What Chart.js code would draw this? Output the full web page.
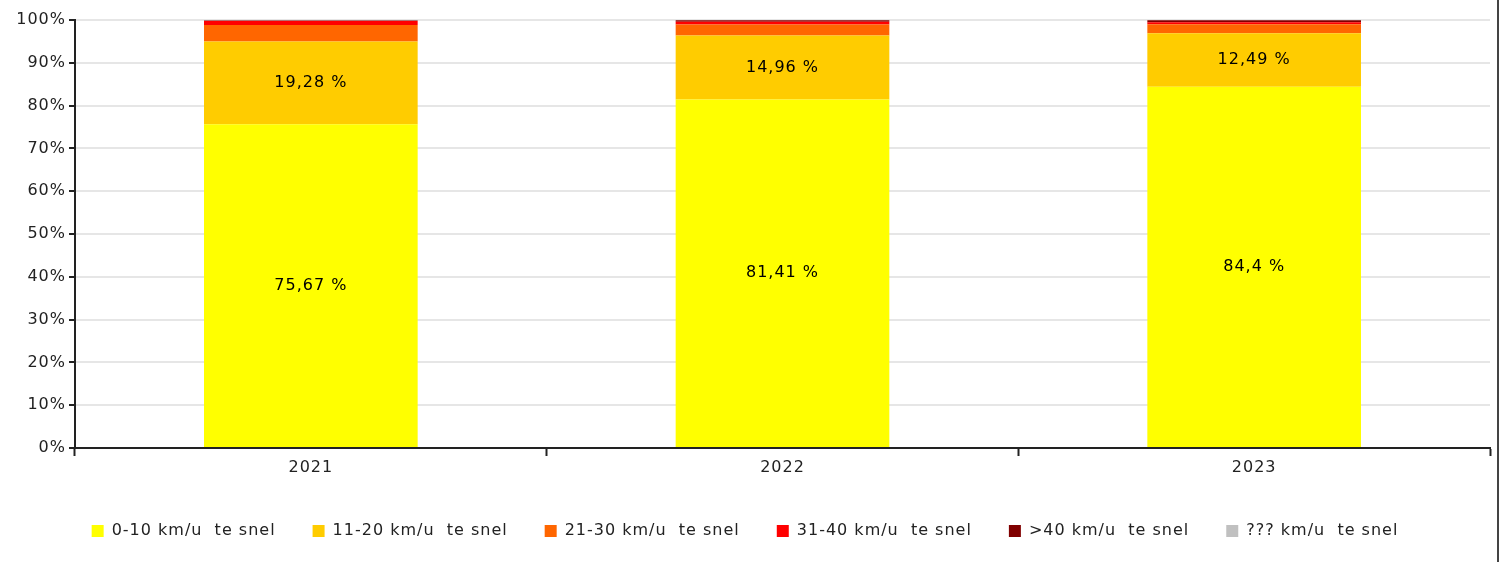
<!DOCTYPE html>
<html>
<head>
<meta charset="utf-8">
<script src="https://cdn.jsdelivr.net/npm/chart.js@4.4.0/dist/chart.umd.min.js"></script>
<style>
  html, body { margin: 0; padding: 0; background: #fff; }
  #wrap { position: relative; width: 1497px; height: 562px; border-right: 2px solid #444; }
</style>
</head>
<body>
<div id="wrap"><canvas id="Chart1"></canvas></div>
<script>
var years = ['2021', '2022', '2023'];
var speedLabels = ['0-10 km/u  te snel', '11-20 km/u  te snel', '21-30 km/u  te snel',
  '31-40 km/u  te snel', '>40 km/u  te snel', '??? km/u  te snel'];
var speedColors = ['#FFFF00', '#FFCC00', '#FF6600', '#FF0000', '#800000', '#C0C0C0'];

var kmh0to10 = [75.67, 81.41, 84.4];
var kmh11to20 = [19.28, 14.96, 12.49];
var kmh21to30 = [3.9, 2.6, 2.1];
var kmh31to40 = [0.9, 0.6, 0.5];
var kmhOver40 = [0.15, 0.4, 0.45];
var kmhUnknown = [0, 0, 0];

var yTicks = [0, 10, 20, 30, 40, 50, 60, 70, 80, 90, 100];

var series = [kmh0to10, kmh11to20, kmh21to30, kmh31to40, kmhOver40, kmhUnknown];

var fontName = "'DejaVu Sans', sans-serif";

// the reference text is a bit spaced out
var spacing = {
  id: 'spacing',
  beforeLayout: function (chart) { chart.ctx.letterSpacing = '1px'; },
  beforeDraw: function (chart) { chart.ctx.letterSpacing = '1px'; }
};

// labels inside the big segments, like "75,67 %"
var barLabels = {
  id: 'barLabels',
  afterDatasetsDraw: function (chart) {
    var ctx = chart.ctx;
    ctx.save();
    ctx.font = '16px ' + fontName;
    ctx.fillStyle = '#000';
    ctx.textAlign = 'center';
    ctx.textBaseline = 'middle';
    chart.data.datasets.forEach(function (ds, i) {
      chart.getDatasetMeta(i).data.forEach(function (bar, j) {
        var v = ds.data[j];
        if (v < 10) return;
        var txt = String(v).replace('.', ',') + ' %';
        ctx.fillText(txt, bar.x, (bar.y + bar.base) / 2);
      });
    });
    ctx.restore();
  }
};

var ctx = document.getElementById('Chart1');
var chart = new Chart(ctx, {
  type: 'bar',
  data: {
    labels: years,
    datasets: series.map(function (d, i) {
      return {
        label: speedLabels[i],
        data: d,
        backgroundColor: speedColors[i],
        borderWidth: 0,
        barPercentage: 0.453,
        categoryPercentage: 1
      };
    })
  },
  options: {
    responsive: true,
    maintainAspectRatio: false,
    animation: false,
    layout: { padding: { top: 20, right: 7, bottom: 13, left: 0 } },
    plugins: {
      tooltip: { enabled: false },
      legend: {
        position: 'bottom',
        labels: {
          boxWidth: 12,
          boxHeight: 12,
          padding: 37,
          color: '#222',
          font: { family: fontName, size: 16 }
        }
      }
    },
    scales: {
      x: {
        stacked: true,
        border: { color: '#222', width: 2 },
        grid: { drawOnChartArea: false, drawTicks: true, tickLength: 8, tickColor: '#222', tickWidth: 2, offset: true },
        ticks: { color: '#222', padding: 2, font: { family: fontName, size: 16 } },
        afterFit: function (s) { s.height = 38; }
      },
      y: {
        stacked: true,
        min: 0,
        max: 100,
        border: { color: '#222', width: 2 },
        grid: { color: '#e6e6e6', lineWidth: 2, tickLength: 6, tickColor: '#222', tickWidth: 2 },
        afterBuildTicks: function (s) { s.ticks = yTicks.map(function (v) { return { value: v }; }); },
        ticks: {
          color: '#222',
          padding: 3,
          font: { family: fontName, size: 16 },
          callback: function (v) { return v + '%'; }
        },
        afterFit: function (s) { s.width = 75; }
      }
    }
  },
  plugins: [spacing, barLabels]
});
</script>
</body>
</html>
